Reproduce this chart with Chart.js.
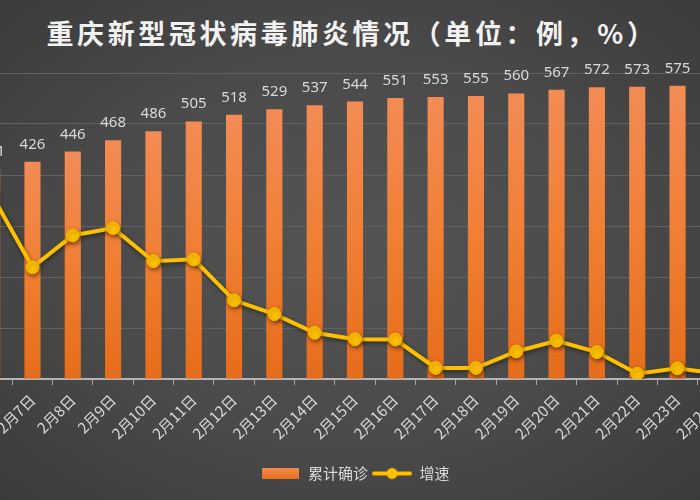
<!DOCTYPE html>
<html>
<head>
<meta charset="utf-8">
<script src="https://cdn.jsdelivr.net/npm/chart.js@4.4.1/dist/chart.umd.min.js"></script>
<style>
  html, body { margin: 0; padding: 0; width: 700px; height: 500px; overflow: hidden; }
  body { position: relative; background: radial-gradient(ellipse at 50% 50%, #545454 0%, #4a4a4a 55%, #3b3b3b 100%); }
  #title { position: absolute; left: 10px; top: 13px; width: 684px; text-align: center; white-space: nowrap;
    font: bold 27px "Noto Sans CJK SC", sans-serif; letter-spacing: 3.6px; color: #f2f2f2; }
  #wrap { position: absolute; left: -28px; top: 0; width: 766px; height: 500px; }
</style>
</head>
<body>
<div id="title">重庆新型冠状病毒肺炎情况（单位：例，%）</div>
<div id="wrap"><canvas id="c" width="766" height="500"></canvas></div>
<script>
// Categories (dates)
const categories = ['2月6日','2月7日','2月8日','2月9日','2月10日','2月11日','2月12日','2月13日','2月14日','2月15日','2月16日','2月17日','2月18日','2月19日','2月20日','2月21日','2月22日','2月23日','2月24日'];
// Cumulative confirmed cases
const confirmedCases = [411,426,446,468,486,505,518,529,537,544,551,553,555,560,567,572,573,575,576];
// Growth rate (%)
const growthRate = [6.0,3.65,4.69,4.93,3.85,3.91,2.57,2.12,1.51,1.30,1.29,0.36,0.36,0.90,1.25,0.88,0.17,0.35,0.17];
const seriesNames = ['累计确诊','增速'];

function makeRectIcon() {
  const c = document.createElement('canvas'); c.width = 37; c.height = 11;
  const x = c.getContext('2d');
  const g = x.createLinearGradient(0,0,0,11); g.addColorStop(0,'#f28a4e'); g.addColorStop(1,'#e8701c');
  x.fillStyle = g; x.fillRect(0,0,37,11);
  return c;
}
function makeLineIcon() {
  const c = document.createElement('canvas'); c.width = 40; c.height = 14;
  const x = c.getContext('2d');
  x.strokeStyle = '#ffc000'; x.lineWidth = 4; x.lineCap = 'round';
  x.beginPath(); x.moveTo(2,7); x.lineTo(38,7); x.stroke();
  x.fillStyle = '#ffc000'; x.beginPath(); x.arc(20,7,5.5,0,Math.PI*2); x.fill();
  return c;
}
const icons = [makeRectIcon(), makeLineIcon()];

const valueLabels = {
  id: 'valueLabels',
  afterDatasetsDraw(chart) {
    const meta = chart.getDatasetMeta(1);
    const ctx = chart.ctx;
    ctx.save();
    ctx.font = '15px "Noto Sans", sans-serif';
    ctx.fillStyle = '#d9d9d9';
    ctx.textAlign = 'center';
    ctx.textBaseline = 'alphabetic';
    meta.data.forEach((bar, i) => {
      ctx.fillText(String(confirmedCases[i]), bar.x, bar.y - 13);
    });
    ctx.restore();
  }
};

const lineShadow = {
  id: 'lineShadow',
  beforeDatasetDraw(chart, args) {
    if (args.index === 0) { const c = chart.ctx; c.save(); c.shadowColor = 'rgba(0,0,0,0.45)'; c.shadowBlur = 4; c.shadowOffsetX = 1; c.shadowOffsetY = 2; }
  },
  afterDatasetDraw(chart, args) { if (args.index === 0) chart.ctx.restore(); }
};

new Chart(document.getElementById('c'), {
  data: {
    labels: categories,
    datasets: [
      {
        type: 'line', label: seriesNames[1], data: growthRate, yAxisID: 'y1',
        borderColor: '#ffc000', backgroundColor: '#ffc000', borderWidth: 4,
        pointRadius: 6.5, pointHoverRadius: 6.5, pointBackgroundColor: '#ffc000', pointBorderColor: '#f5b800', pointBorderWidth: 1,
        tension: 0, order: 0
      },
      {
        type: 'bar', label: seriesNames[0], data: confirmedCases, yAxisID: 'y',
        barPercentage: 0.4, categoryPercentage: 1.0, order: 1,
        backgroundColor: (ctx) => {
          const chart = ctx.chart;
          if (!chart.chartArea || ctx.type !== 'data') return '#ed7d31';
          const ys = chart.scales.y;
          const top = ys.getPixelForValue(ctx.raw), bottom = ys.getPixelForValue(0);
          const g = chart.ctx.createLinearGradient(0, top, 0, bottom);
          g.addColorStop(0, '#f28b55'); g.addColorStop(0.5, '#f07f33'); g.addColorStop(1, '#e66c1a');
          return g;
        },
        borderWidth: 0
      }
    ]
  },
  options: {
    responsive: false,
    animation: false,
    devicePixelRatio: 1,
    layout: { autoPadding: false, padding: { top: 73, bottom: 9, left: 0, right: 0 } },
    plugins: {
      title: { display: false },
      tooltip: { enabled: false },
      legend: {
        position: 'bottom',
        labels: {
          usePointStyle: true, pointStyleWidth: 40, padding: 4,
          color: '#d9d9d9', font: { size: 15, family: '"Noto Sans CJK SC", sans-serif' },
          generateLabels: (chart) => [
            { text: seriesNames[0], pointStyle: icons[0], fontColor: '#d9d9d9', datasetIndex: 1, hidden: false, lineWidth: 0 },
            { text: seriesNames[1], pointStyle: icons[1], fontColor: '#d9d9d9', datasetIndex: 0, hidden: false, lineWidth: 0 }
          ]
        }
      }
    },
    scales: {
      x: {
        offset: true,
        grid: { display: true, drawOnChartArea: false, drawTicks: true, tickLength: 6, color: '#a6a6a6', lineWidth: 1, offset: true },
        border: { display: true, color: '#b4b4b4', width: 2 },
        ticks: { minRotation: 45, maxRotation: 45, autoSkip: false, padding: 6, color: '#d9d9d9', font: { size: 15, family: '"Noto Sans CJK SC", sans-serif' } },
        afterFit: (s) => { s.paddingLeft = 0; s.paddingRight = 0; s.height = 83; }
      },
      y: {
        position: 'left', min: 0, max: 600,
        ticks: { display: false, stepSize: 100 },
        grid: { color: '#616161', lineWidth: 1, drawTicks: false },
        border: { display: false }
      },
      y1: {
        position: 'right', min: 0, max: 10, display: false,
        grid: { drawOnChartArea: false }
      }
    }
  },
  plugins: [valueLabels, lineShadow]
});
</script>
</body>
</html>
